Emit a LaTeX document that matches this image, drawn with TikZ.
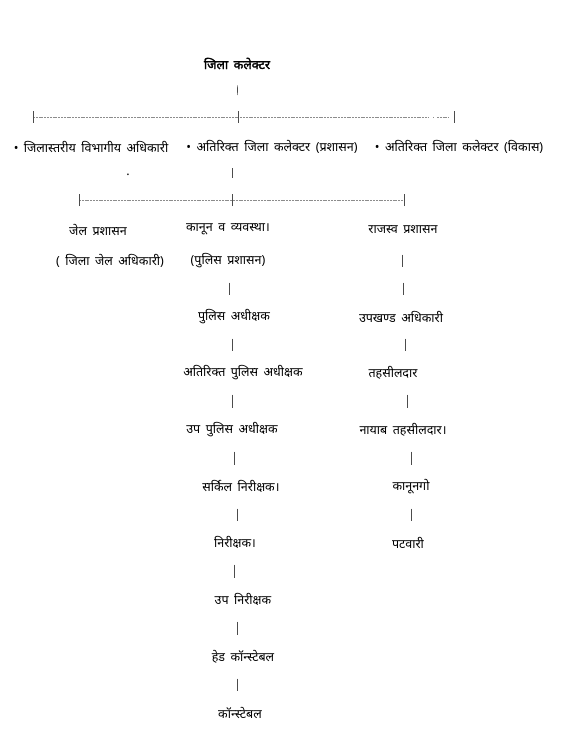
\documentclass[tikz,border=0pt]{standalone}
\usepackage{fontspec}
\setmainfont[Script=Devanagari, WordSpace=1.7]{Noto Sans}
\newfontfamily\headfont[Script=Devanagari, WordSpace=1.7, FakeBold=2]{Noto Sans}
\usepackage{tikz}
\tikzstyle{post} = [inner sep=1pt, yshift=-1.5pt, font=\fontsize{12.5}{14}\selectfont]
\tikzstyle{bar}  = [line width=0.6pt, black!70, shorten >=22pt, shorten <=22pt]
\tikzstyle{rule} = [line width=0.5pt, black!45, dash pattern=on 2pt off 0.8pt]
\tikzstyle{tick} = [line width=0.7pt, black!70]

\begin{document}
\begin{tikzpicture}[x=1pt, y=-1pt]
            \useasboundingbox (0,0) rectangle (562,746);

            \node[post, font=\fontsize{12.5}{14}\headfont] (coll) at (237,  62) {जिला कलेक्टर};

            \node[post]   (dlo)     at ( 91, 145)   {• जिलास्तरीय विभागीय अधिकारी};
            \node[post]   (adma)    at (272, 145)   {• अतिरिक्त जिला कलेक्टर (प्रशासन)};
            \node[post]   (addv)    at (459, 145)   {• अतिरिक्त जिला कलेक्टर (विकास)};
            \node[post]   (dot)     at (128, 173)   {.};

            \node[post]   (jail)    at ( 98, 228)   {जेल प्रशासन};
            \node[post]   (jailsub) at (110, 259)   {( जिला जेल अधिकारी)};
            \node[post]   (law)     at (228, 228)   {कानून व व्यवस्था।};
            \node[post]   (lawsub)  at (228, 259)   {(पुलिस प्रशासन)};
            \node[post]   (rev)     at (403, 228)   {राजस्व प्रशासन};

            % police
            \node[post]   (sp)      at (234, 315)   {पुलिस अधीक्षक};
            \node[post]   (asp)     at (243, 371)   {अतिरिक्त पुलिस अधीक्षक};
            \node[post]   (dsp)     at (232, 428)   {उप पुलिस अधीक्षक};
            \node[post]   (ci)      at (241, 485)   {सर्किल निरीक्षक।};
            \node[post]   (insp)    at (235, 541)   {निरीक्षक।};
            \node[post]   (si)      at (243, 598)   {उप निरीक्षक};
            \node[post]   (hc)      at (243, 655)   {हेड कॉन्स्टेबल};
            \node[post]   (con)     at (240, 711)   {कॉन्स्टेबल};

            % revenue
            \node[post]   (sdo)     at (401, 315)   {उपखण्ड अधिकारी};
            \node[post]   (teh)     at (393, 371)   {तहसीलदार};
            \node[post]   (nteh)    at (403, 428)   {नायाब तहसीलदार।};
            \node[post]   (kan)     at (411, 485)   {कानूनगो};
            \node[post]   (pat)     at (408, 541)   {पटवारी};

            \coordinate (h1l) at ( 33, 117);
            \coordinate (h1m) at (238, 117);
            \coordinate (h1e) at (428, 117);
            \coordinate (h1r) at (454, 117);
            \coordinate (h2l) at ( 79, 200);
            \coordinate (h2m) at (232, 200);
            \coordinate (h2r) at (404, 200);

            \draw[rule] (h1l) -- (h1e);
            \draw[rule] ([xshift=5pt]h1e) -- ([xshift=6pt]h1e);
            \draw[rule] ([xshift=9pt]h1e) -- ([xshift=21pt]h1e);
            \draw[rule] (h2l) -- (h2r);
            \foreach \t in {h1l, h1m, h1r, h2l, h2m, h2r}
                \draw[tick] ([yshift=-6pt]\t) -- ([yshift=6pt]\t);

            \draw[bar] (coll.center) -- (h1m);
            \draw[bar] (adma -| h2m) -- (h2m);
            \draw[bar] (lawsub -| 229,0) -- (sp -| 229,0);
            \draw[bar, shorten >=50pt, shorten <=25pt] (rev -| 402,0) -- (sdo -| 402,0);
            \draw[bar, shorten >=22pt, shorten <=53pt] (rev -| 403,0) -- (sdo -| 403,0);

            \draw[bar] (sp   -| 232,0) -- (asp  -| 232,0);
            \draw[bar] (asp  -| 232,0) -- (dsp  -| 232,0);
            \draw[bar] (dsp  -| 234,0) -- (ci   -| 234,0);
            \draw[bar] (ci   -| 237,0) -- (insp -| 237,0);
            \draw[bar] (insp -| 234,0) -- (si   -| 234,0);
            \draw[bar] (si   -| 237,0) -- (hc   -| 237,0);
            \draw[bar] (hc   -| 237,0) -- (con  -| 237,0);

            \draw[bar] (sdo  -| 405,0) -- (teh  -| 405,0);
            \draw[bar] (teh  -| 407,0) -- (nteh -| 407,0);
            \draw[bar] (nteh -| 411,0) -- (kan  -| 411,0);
            \draw[bar] (kan  -| 411,0) -- (pat  -| 411,0);
        \end{tikzpicture}
\end{document}
